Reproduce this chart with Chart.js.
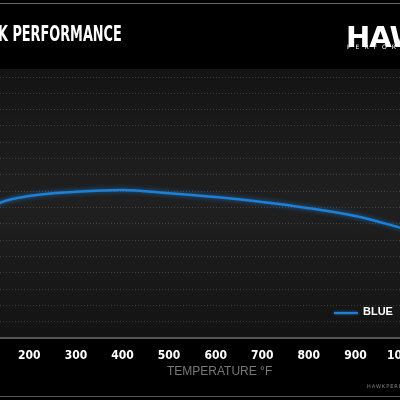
<!DOCTYPE html>
<html><head><meta charset="utf-8">
<script src="https://cdn.jsdelivr.net/npm/chart.js@4"></script>
<style>
body{margin:0;background:#000;}
#wrap{position:relative;width:400px;height:400px;overflow:hidden;background:#000;}
canvas{position:absolute;left:0;top:0;}
.t{position:absolute;color:#fff;font-family:'DejaVu Sans Condensed','DejaVu Sans',sans-serif;font-weight:bold;white-space:nowrap;transform-origin:0 0;}
</style></head><body>
<div id="wrap">
<div style="position:absolute;left:0;right:0;top:3px;height:1px;background:#666"></div>
<div style="position:absolute;left:0;right:0;top:396px;height:1px;background:#555"></div>
<canvas id="c" width="420" height="400"></canvas>
<div class="t" style="left:-2px;top:22px;font-size:21px;transform:scaleX(0.68)">K PERFORMANCE</div>
<div class="t" style="left:-7px;top:43px;font-size:15px;transform:scaleX(0.68)">E</div>
<div class="t" style="left:346px;top:20px;font-size:29px;font-family:'DejaVu Sans',sans-serif;letter-spacing:-1px">HAWK</div>
<div class="t" style="left:347px;top:43px;font-size:6px;font-weight:normal;letter-spacing:5px;font-family:'DejaVu Sans',sans-serif">PERFORMANCE</div>
<div style="position:absolute;left:334px;top:312px;width:24px;height:2px;background:#1e7fd6;box-shadow:0 0 3px #1e7fd6"></div>
<div class="t" style="left:363px;top:305px;font-size:11px;font-family:'Liberation Sans',sans-serif">BLUE</div>
<div class="t" style="left:167px;top:364px;font-size:12px;color:#777;font-weight:normal;font-family:'Liberation Sans',sans-serif">TEMPERATURE °F</div>
<div class="t" style="left:367px;top:383px;font-size:5px;color:#888;font-weight:normal;letter-spacing:1px;font-family:'DejaVu Sans',sans-serif">HAWKPERFORMANCE</div>
</div>
<script>
const temps = [100, 137, 200, 300, 400, 500, 600, 700, 800, 900, 1000];
const blue = [0.38, 0.414, 0.435, 0.448, 0.454, 0.444, 0.432, 0.417, 0.398, 0.374, 0.337];
const xTicks = [200, 300, 400, 500, 600, 700, 800, 900, 1000];

const bg = {
  id: 'bg',
  beforeDraw(chart) {
    const {ctx, chartArea: a} = chart;
    const g = ctx.createLinearGradient(0, a.top - 8, 0, a.bottom);
    g.addColorStop(0, '#141414');
    g.addColorStop(0.5, '#202020');
    g.addColorStop(1, '#131313');
    ctx.save();
    ctx.fillStyle = g;
    ctx.fillRect(a.left, a.top - 8, a.right - a.left, a.bottom - a.top + 8);
    ctx.restore();
  },
  beforeDatasetsDraw(chart) {
    chart.ctx.save();
    chart.ctx.shadowColor = 'rgba(30,127,214,0.8)';
    chart.ctx.shadowBlur = 5;
  },
  afterDatasetsDraw(chart) { chart.ctx.restore(); }
};

new Chart(document.getElementById('c'), {
  type: 'line',
  data: {
    datasets: [{
      label: 'BLUE',
      data: temps.map((t, i) => ({x: t, y: blue[i]})),
      borderColor: '#1e7fd6',
      borderWidth: 2.5,
      pointRadius: 0,
      cubicInterpolationMode: 'monotone'
    }]
  },
  options: {
    responsive: false,
    animation: false,
    layout: {padding: {top: 77, left: 0, right: 0, bottom: 0}},
    plugins: {legend: {display: false}, tooltip: {enabled: false}},
    scales: {
      x: {
        type: 'linear', min: 137, max: 1006,
        afterBuildTicks: s => { s.ticks = xTicks.map(v => ({value: v})); },
        afterFit: s => { s.height = 62; },
        grid: {display: false},
        border: {color: '#555', width: 2},
        ticks: {color: '#fff', padding: 3, maxRotation: 0, callback: v => String(v),
          font: {family: "'DejaVu Sans Condensed', 'DejaVu Sans', sans-serif", weight: 'bold', size: 12}}
      },
      y: {
        min: 0, max: 0.8,
        afterFit: s => { s.width = 0; },
        ticks: {display: false, stepSize: 0.05},
        border: {display: false, dash: [1, 2]},
        grid: {color: 'rgba(255,255,255,0.16)', drawTicks: false}
      }
    }
  },
  plugins: [bg]
});
</script>
</body></html>
